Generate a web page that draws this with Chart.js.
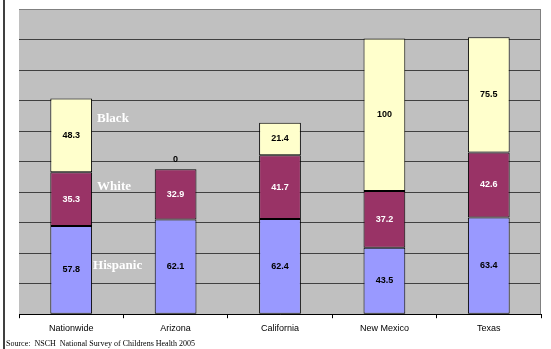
<!DOCTYPE html>
<html>
<head>
<meta charset="utf-8">
<script src="https://cdn.jsdelivr.net/npm/chart.js@4/dist/chart.umd.min.js"></script>
<style>
  body { margin: 0; background: #fff; }
</style>
</head>
<body>
<canvas id="chart" width="551" height="349"></canvas>
<script>
// datos
const states = ["Nationwide", "Arizona", "California", "New Mexico", "Texas"];
const hispanic = [57.8, 62.1, 62.4, 43.5, 63.4];
const white = [35.3, 32.9, 41.7, 37.2, 42.6];
const black = [48.3, 0, 21.4, 100, 75.5];
const seriesNames = ["Hispanic", "White", "Black"];

// donde van los nombres de series (en valores del eje y)
const seriesLabelY = { Black: 128, White: 83.5, Hispanic: 31.5 };

// fondo gris, borde y textos extra
const decor = {
  id: "decor",
  beforeDraw(chart) {
    const { ctx, chartArea: a } = chart;
    ctx.save();
    ctx.fillStyle = "#fff";
    ctx.fillRect(0, 0, chart.width, chart.height);
    ctx.fillStyle = "#C0C0C0";
    ctx.fillRect(a.left, a.top, a.right - a.left, a.bottom - a.top);
    ctx.restore();
  },
  afterDatasetsDraw(chart) {
    const { ctx, chartArea: a } = chart;
    ctx.save();
    // borde superior y derecho
    ctx.strokeStyle = "#808080";
    ctx.lineWidth = 1;
    ctx.beginPath();
    ctx.moveTo(a.left, a.top + 0.5);
    ctx.lineTo(a.right - 0.5, a.top + 0.5);
    ctx.lineTo(a.right - 0.5, a.bottom);
    ctx.stroke();

    // valores dentro de las barras
    ctx.font = "bold 9px 'Liberation Sans', Arial, sans-serif";
    ctx.textAlign = "center";
    ctx.textBaseline = "middle";
    chart.data.datasets.forEach((ds, i) => {
      chart.getDatasetMeta(i).data.forEach((bar, j) => {
        const v = ds.data[j];
        if (v === 0) {
          ctx.fillStyle = "#000";
          ctx.fillText("0", bar.x, bar.y - 10);
        } else {
          ctx.fillStyle = ds.label === "White" ? "#fff" : "#000";
          ctx.fillText(String(v), bar.x, (bar.y + bar.base) / 2);
        }
      });
    });

    // nombres de series junto a Nationwide
    const first = chart.getDatasetMeta(0).data[0];
    const y = chart.scales.y;
    ctx.font = "bold 13px 'Liberation Serif', 'Times New Roman', serif";
    ctx.textAlign = "left";
    ctx.fillStyle = "#fff";
    const xr = first.x + first.width / 2;
    ctx.fillText("Black", xr + 5, y.getPixelForValue(seriesLabelY.Black));
    ctx.fillText("White", xr + 5, y.getPixelForValue(seriesLabelY.White));
    ctx.fillText("Hispanic", xr + 1, y.getPixelForValue(seriesLabelY.Hispanic));
    ctx.restore();
  },
  afterDraw(chart) {
    const { ctx } = chart;
    ctx.save();
    // linea negra a la izquierda
    ctx.strokeStyle = "#000";
    ctx.lineWidth = 1.5;
    ctx.beginPath();
    ctx.moveTo(4, 0);
    ctx.lineTo(4, chart.height);
    ctx.stroke();
    // fuente
    ctx.fillStyle = "#000";
    ctx.font = "8px 'Liberation Serif', 'Times New Roman', serif";
    ctx.textBaseline = "middle";
    ctx.fillText("Source:  NSCH  National Survey of Childrens Health 2005", 6, 344);
    ctx.restore();
  }
};

new Chart(document.getElementById("chart"), {
  type: "bar",
  data: {
    labels: states,
    datasets: [
      { label: seriesNames[0], data: hispanic, backgroundColor: "#9999FF" },
      { label: seriesNames[1], data: white, backgroundColor: "#993366" },
      { label: seriesNames[2], data: black, backgroundColor: "#FFFFCC" },
    ].map(d => Object.assign(d, {
      borderColor: "#000",
      borderWidth: 1,
      borderSkipped: false,
      categoryPercentage: 1,
      barPercentage: 0.4,
    })),
  },
  options: {
    responsive: false,
    animation: false,
    layout: { padding: { left: 19, right: 10, top: 9, bottom: 10 } },
    plugins: {
      legend: { display: false },
      tooltip: { enabled: false },
    },
    scales: {
      x: {
        stacked: true,
        grid: { drawOnChartArea: false, color: "#000", tickLength: 4 },
        border: { color: "#000", width: 1 },
        ticks: { color: "#000", font: { family: "'Liberation Sans', Arial", size: 9 }, padding: 5 },
      },
      y: {
        stacked: true,
        min: 0,
        max: 200,
        ticks: { display: false, stepSize: 20 },
        grid: {
          drawTicks: false,
          color: ctx => (ctx.tick.value === 200 ? "#808080" : "#404040"),
        },
        border: { display: false },
      },
    },
  },
  plugins: [decor],
});
</script>
</body>
</html>
